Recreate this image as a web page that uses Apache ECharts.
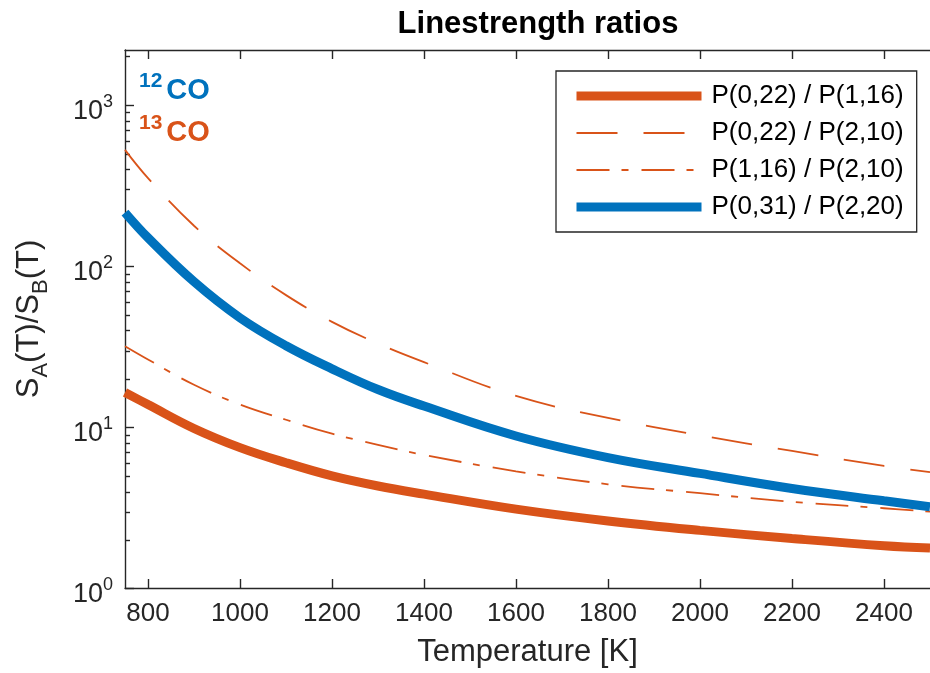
<!DOCTYPE html>
<html><head><meta charset="utf-8">
<script src="https://cdn.jsdelivr.net/npm/echarts@6/dist/echarts.min.js"></script>
<style>html,body{margin:0;padding:0;background:#fff;overflow:hidden}#c{width:930px;height:673px}</style>
</head><body><div id="c"></div>
<script>
// ---- data ----
const temperature = [750, 800, 900, 1000, 1100, 1200, 1300, 1400, 1600, 1800, 2000, 2200, 2400, 2500];
const ratioP022_P116 = [16.4, 13.8, 9.8, 7.45, 6.0, 4.97, 4.3, 3.83, 3.09, 2.61, 2.28, 2.03, 1.83, 1.77];
const ratioP022_P210 = [527, 352, 178, 104, 66, 45, 33, 25.3, 15.6, 11.4, 8.88, 7.10, 5.73, 5.25];
const ratioP116_P210 = [31.8, 26.3, 18.3, 13.8, 11.1, 9.1, 7.75, 6.71, 5.31, 4.41, 3.88, 3.43, 3.13, 2.98];
const ratioP031_P220 = [215, 150, 80, 47.7, 32, 23.0, 17.1, 13.5, 8.8, 6.46, 5.15, 4.15, 3.48, 3.2];
const seriesNames = ['P(0,22) / P(1,16)', 'P(0,22) / P(2,10)', 'P(1,16) / P(2,10)', 'P(0,31) / P(2,20)'];
const xTicks = [800, 1000, 1200, 1400, 1600, 1800, 2000, 2200, 2400];
const yMajorTicks = [1, 10, 100, 1000];
const yMinorTicks = [2, 3, 4, 5, 6, 7, 8, 9, 20, 30, 40, 50, 60, 70, 80, 90, 200, 300, 400, 500, 600, 700, 800, 900, 2000];
const xRange = [750, 2500];
const yRange = [1, 2200];
const titleText = 'Linestrength ratios';
const xLabel = 'Temperature [K]';

// ---- styling ----
const ORANGE = '#D95319', BLUE = '#0072BD', AX = '#262626';
const FONT = 'Liberation Sans';
const GRID = {left: 125, top: 50, width: 815, height: 539, containLabel: false};
const pairs = vals => temperature.map((t, i) => [t, vals[i]]);

const chart = echarts.init(document.getElementById('c'), null, {renderer: 'canvas'});
const lineSeries = (name, vals, color, width, type) => ({
  name, type: 'line', data: pairs(vals), symbol: 'none', smooth: 0.4,
  xAxisIndex: 0, yAxisIndex: 0,
  lineStyle: {color, width, type, cap: 'butt'}, itemStyle: {color}, z: 3
});
const isoLabel = (mass, color, top) => ({
  type: 'text', left: 139, top, z: 10,
  style: {
    text: '{s|' + mass + '}{c|CO}',
    rich: {
      s: {fontFamily: FONT, fontWeight: 'bold', fontSize: 21, fill: color, verticalAlign: 'top', padding: [2, 4, 0, 0]},
      c: {fontFamily: FONT, fontWeight: 'bold', fontSize: 29, fill: color, lineHeight: 36, verticalAlign: 'bottom'}
    }
  }
});

chart.setOption({
  animation: false,
  backgroundColor: '#fff',
  textStyle: {fontFamily: FONT},
  title: {
    text: titleText, left: 533, top: 4, textAlign: 'center',
    textStyle: {fontFamily: FONT, fontWeight: 'bold', fontSize: 31, color: '#000'}
  },
  grid: [Object.assign({}, GRID), Object.assign({}, GRID)],
  legend: {
    orient: 'vertical', left: 556, top: 71,
    padding: [12, 13, 12, 16], itemGap: 11, itemWidth: 125, itemHeight: 25,
    backgroundColor: '#fff', borderColor: AX, borderWidth: 1.3,
    itemStyle: {opacity: 0},
    textStyle: {fontFamily: FONT, fontSize: 26, color: '#000', padding: [0, 0, 0, 5]},
    data: [
      {name: seriesNames[0], lineStyle: {width: 9}},
      {name: seriesNames[1], lineStyle: {width: 1.8}},
      {name: seriesNames[2], lineStyle: {width: 1.8}},
      {name: seriesNames[3], lineStyle: {width: 9}}
    ]
  },
  xAxis: [{
    gridIndex: 0, type: 'value', min: xRange[0], max: xRange[1], position: 'bottom',
    name: xLabel, nameLocation: 'middle', nameGap: 49,
    nameTextStyle: {fontFamily: FONT, fontSize: 31, color: AX},
    axisLine: {show: true, lineStyle: {color: AX, width: 1.4}},
    axisTick: {show: true, inside: true, length: 9, customValues: xTicks, lineStyle: {color: AX, width: 1.4}},
    axisLabel: {show: true, customValues: xTicks, margin: 13, fontFamily: FONT, fontSize: 26, color: AX,
      formatter: v => String(v)},
    splitLine: {show: false}
  }, {
    gridIndex: 0, type: 'value', min: xRange[0], max: xRange[1], position: 'top',
    axisLine: {show: true, lineStyle: {color: AX, width: 1.4}},
    axisTick: {show: true, inside: true, length: 9, customValues: xTicks, lineStyle: {color: AX, width: 1.4}},
    axisLabel: {show: false}, splitLine: {show: false}
  }, {
    gridIndex: 1, type: 'value', min: xRange[0], max: xRange[1], show: false
  }],
  yAxis: [{
    gridIndex: 0, type: 'log', logBase: 10, min: yRange[0], max: yRange[1], position: 'left',
    name: '{n|S}{sub|A}{n|(T)/S}{sub|B}{n|(T)}', nameLocation: 'middle', nameGap: 73, nameRotate: 90,
    nameTextStyle: {
      fontFamily: FONT, color: AX,
      rich: {
        n: {fontFamily: FONT, fontSize: 31, color: AX, lineHeight: 38, verticalAlign: 'top'},
        sub: {fontFamily: FONT, fontSize: 22, color: AX, verticalAlign: 'bottom'}
      }
    },
    axisLine: {show: true, lineStyle: {color: AX, width: 1.4}},
    axisTick: {show: true, inside: true, length: 9, customValues: yMajorTicks, lineStyle: {color: AX, width: 1.4}},
    axisLabel: {
      show: true, customValues: yMajorTicks, margin: 12,
      formatter: v => '{b|10}{s|' + Math.round(Math.log10(v)) + '}',
      rich: {
        b: {fontFamily: FONT, fontSize: 27, color: AX, lineHeight: 40, verticalAlign: 'bottom'},
        s: {fontFamily: FONT, fontSize: 18, color: AX, verticalAlign: 'top', padding: [8, 0, 0, 0]}
      }
    },
    splitLine: {show: false}, minorTick: {show: false}
  }, {
    // minor ticks on an overlaid grid with identical geometry
    gridIndex: 1, type: 'log', logBase: 10, min: yRange[0], max: yRange[1], position: 'left',
    axisLine: {show: false},
    axisTick: {show: true, inside: true, length: 5, customValues: yMinorTicks, lineStyle: {color: AX, width: 1.4}},
    axisLabel: {show: false}, splitLine: {show: false}
  }],
  graphic: [isoLabel('12', BLUE, 71), isoLabel('13', ORANGE, 113)],
  series: [
    lineSeries(seriesNames[0], ratioP022_P116, ORANGE, 9, 'solid'),
    lineSeries(seriesNames[1], ratioP022_P210, ORANGE, 1.8, [41, 26]),
    lineSeries(seriesNames[2], ratioP116_P210, ORANGE, 1.8, [33, 12, 7, 13]),
    lineSeries(seriesNames[3], ratioP031_P220, BLUE, 9, 'solid')
  ]
});
</script></body></html>
